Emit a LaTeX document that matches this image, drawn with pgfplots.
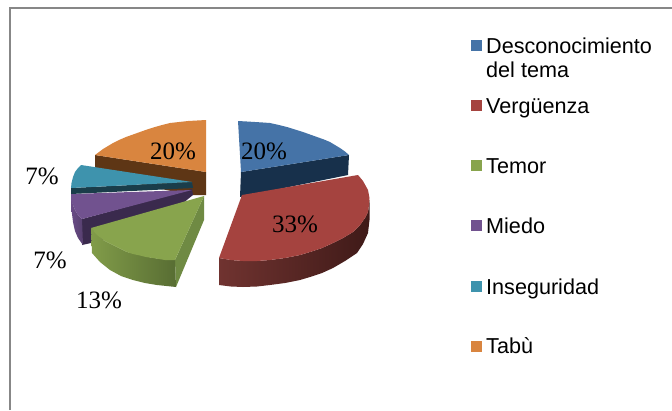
\documentclass[border=0pt]{standalone}
\usepackage{pgfplots}
\pgfplotsset{compat=1.18}
\usepackage{fontspec}
\setmainfont{Liberation Sans}
\newfontfamily\serifl{Liberation Serif}
\definecolor{cBlue}{HTML}{4573A7}\definecolor{cBlueD}{HTML}{17304B}
\definecolor{cRed}{HTML}{A5433F}\definecolor{cRedL}{HTML}{703330}\definecolor{cRedM}{HTML}{4F211F}\definecolor{cRedR}{HTML}{3F1A18}
\definecolor{cGreen}{HTML}{88A44D}\definecolor{cGreenS}{HTML}{6F8A43}\definecolor{cGreenL}{HTML}{819C49}\definecolor{cGreenR}{HTML}{586D33}
\definecolor{cPur}{HTML}{71528F}\definecolor{cPurD}{HTML}{3A2A4D}\definecolor{cPurL}{HTML}{6A4C87}\definecolor{cPurR}{HTML}{57406F}
\definecolor{cTeal}{HTML}{3E93AD}\definecolor{cTealD}{HTML}{1A3D4A}
\definecolor{cOr}{HTML}{D9853F}\definecolor{cOrD}{HTML}{5E3615}
\newcommand{\lab}[3]{\node[font=\serifl\fontsize{25}{26}\selectfont,inner sep=0pt,anchor=center] at (axis cs:#1,#2) {#3\%};}
\newcommand{\leg}[3]{\node[font=\fontsize{21.6}{23.5}\selectfont,inner sep=0pt,anchor=base west] at (axis cs:#1,#2) {#3};}
\begin{document}
\begin{tikzpicture}
\begin{axis}[scale only axis,width=672pt,height=410pt,xmin=0,xmax=672,ymin=0,ymax=410,
  y dir=reverse,hide axis,clip=true,
  every axis plot/.append style={no markers,draw=none,line width=0pt}]
% page
\addplot[fill=white] coordinates {(0,0)(672,0)(672,410)(0,410)} --cycle;
\addplot[draw=black!47,line width=2pt] coordinates {(10,410)(10,8)(672,8)};
% Tabu
\addplot[fill=cOrD] coordinates {(95,155)(206,172)(206,195)(190,195)(95,175)} --cycle;
\addplot[fill=cOr] coordinates {(206,120)(197,120.5)(188,121)(179,122)(170,123)(162,125)(155,127)(147,129.5)(140,132)(133,134.5)(126,137)(119,140)(113,143)(108,146)(103,149)(99,152)(95,155)(206,172)} --cycle;
% Desconocimiento
\addplot[fill=cBlueD] coordinates {(241,172)(349,155)(348,175)(240,197)} --cycle;
\addplot[fill=cBlue] coordinates {(238,121)(247,121.5)(255,122)(263,122.5)(270,123)(279,125)(287,127)(295,129.5)(303,132)(310,134.5)(317,137)(324,139.5)(330,142)(335,145)(340,148)(345,151.5)(349,155)(241,172)} --cycle;
% Miedo
\addplot[fill=cPurD] coordinates {(82,219)(192,189)(193,195)(150,230)(82,245)} --cycle;
\addplot[left color=cPurL,right color=cPurR] coordinates {(71,194)(71.5,210)(73,222)(75,231)(78,238)(83,245)(82,219)(78,215)(75,210)(73,205)} --cycle;
\addplot[fill=cPur] coordinates {(71,194)(192,190)(82,219)(78,215)(75,210)(73,205)(71,200)} --cycle;
% Inseguridad
\addplot[fill=cTealD] coordinates {(71,188)(192,182)(193,188)(71,194)} --cycle;
\addplot[fill=cTeal] coordinates {(81,165)(192,182)(71,188)(71.5,183)(73,177)(75,172)(78,168)} --cycle;
% Temor
\addplot[fill=cGreenS] coordinates {(204,196)(204,220)(176,287)(175,260)} --cycle;
\addplot[left color=cGreenL,right color=cGreenR] coordinates {(91,228)(92,253)(100,262)(110,270)(121,276)(133,280)(145,283)(157,285)(176,287)(175,260)(153,258)(127,252)(103,240)} --cycle;
\addplot[fill=cGreen] coordinates {(204,196)(91,228)(96,234)(103,240)(109,243)(115,246)(121,249)(127,252)(133,254)(140,255.5)(146,257)(153,258)(159,259)(165,260)(175,260)} --cycle;
% Verguenza
\addplot[left color=cRedL,middle color=cRedM,right color=cRedR] coordinates {(219,258)(219,285)(231,286.5)(243,287)(257,286.5)(270,285)(285,283)(300,280)(310,277)(322,273)(333,268)(345,261)(357,253)(363,244)(368,233)(369.5,220)(369.5,200)(369,205)(368,212)(365,218)(360,225)(353,232)(343,238)(333,243)(322,248)(310,252)(300,255)(285,258)(270,260)(257,261)(243,261)(231,260)} --cycle;
\addplot[fill=cRed] coordinates {(242,195)(358,175)(363,181)(368,190)(369.5,198)(369,205)(368,212)(365,218)(360,225)(353,232)(343,238)(333,243)(322,248)(310,252)(300,255)(285,258)(270,260)(257,261)(243,261)(231,260)(219,258)} --cycle;
% legend keys
\addplot[fill=cBlue] coordinates {(471,40)(482,40)(482,51)(471,51)} --cycle;
\addplot[fill=cRed] coordinates {(471,100)(482,100)(482,111)(471,111)} --cycle;
\addplot[fill=cGreen] coordinates {(471,160)(482,160)(482,171)(471,171)} --cycle;
\addplot[fill=cPur] coordinates {(471,220)(482,220)(482,231)(471,231)} --cycle;
\addplot[fill=cTeal] coordinates {(471,281)(482,281)(482,292)(471,292)} --cycle;
\addplot[fill=cOr] coordinates {(471,341)(482,341)(482,352)(471,352)} --cycle;
\lab{173}{151}{20}
\lab{264}{151}{20}
\lab{295}{224}{33}
\lab{99}{300}{13}
\lab{42}{176}{7}
\lab{50}{260}{7}
\leg{486}{53}{Desconocimiento}
\leg{486}{77}{del tema}
\leg{486}{113}{Vergüenza}
\leg{486}{173}{Temor}
\leg{486}{233}{Miedo}
\leg{486}{294}{Inseguridad}
\leg{486}{353}{Tabù}
\end{axis}
\end{tikzpicture}
\end{document}
